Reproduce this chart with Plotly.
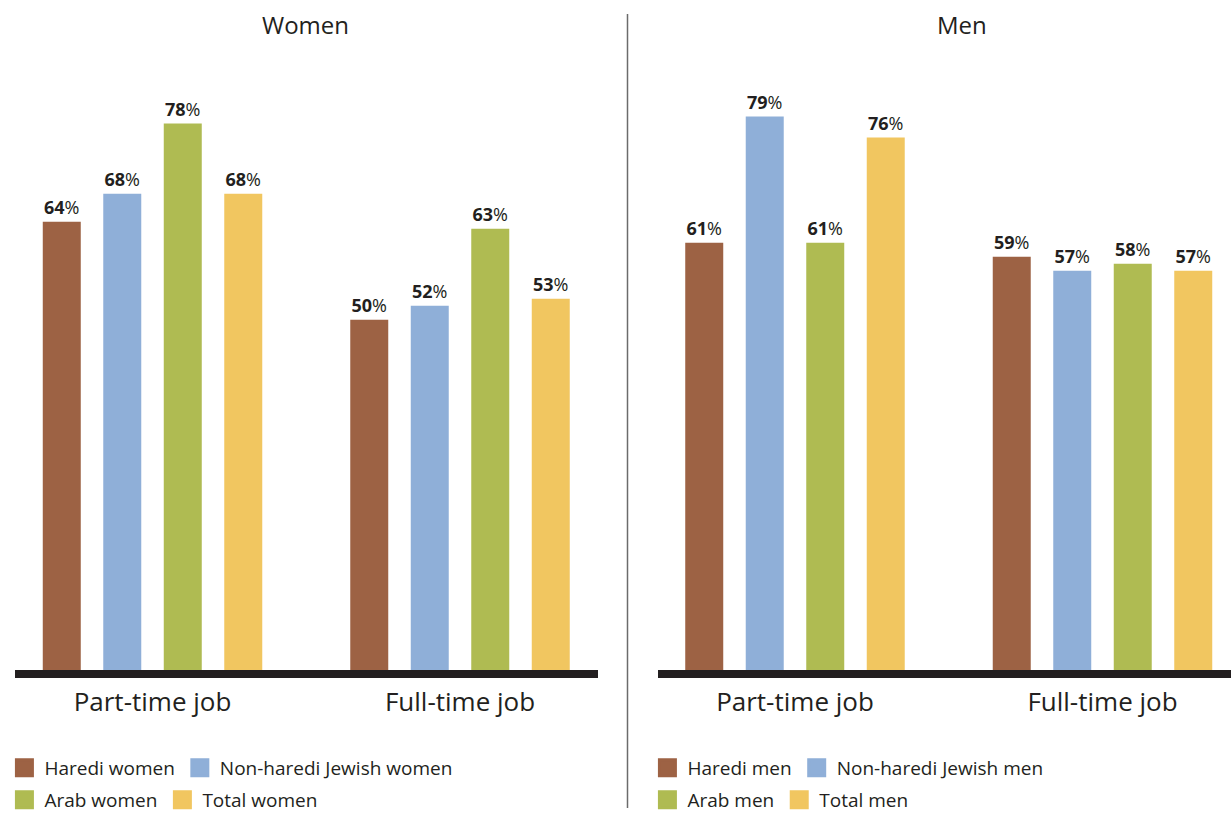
import plotly.graph_objects as go
from plotly.subplots import make_subplots

categories = ["Part-time job", "Full-time job"]

women_groups = ["Haredi women", "Non-haredi Jewish women", "Arab women", "Total women"]
women_values = [
    [64, 50],   # Haredi women
    [68, 52],   # Non-haredi Jewish women
    [78, 63],   # Arab women
    [68, 53],   # Total women
]

men_groups = ["Haredi men", "Non-haredi Jewish men", "Arab men", "Total men"]
men_values = [
    [61, 59],   # Haredi men
    [79, 57],   # Non-haredi Jewish men
    [61, 58],   # Arab men
    [76, 57],   # Total men
]

colors = ["#9d6244", "#8fafd8", "#afbb52", "#f1c660"]
TXT = "#231f20"
FONT = "Open Sans"

W, H = 1231, 814
ML, MR, MT, MB = 15, 0, 40, 144
PW = W - ML - MR
PH = H - MT - MB

fig = make_subplots(rows=1, cols=2)

def add_panel(groups, values, col, legends):
    for i, (g, vals) in enumerate(zip(groups, values)):
        fig.add_trace(
            go.Bar(
                x=categories,
                y=vals,
                name=g,
                marker=dict(color=colors[i], line=dict(width=0)),
                text=[f"<b>{v}</b>%" for v in vals],
                textposition="outside",
                textfont=dict(family=FONT, size=18, color=TXT),
                cliponaxis=False,
                showlegend=False,
                hoverinfo="skip",
            ),
            row=1, col=col,
        )
        # legend swatch (larger square than the default bar symbol)
        fig.add_trace(
            go.Scatter(
                x=[None], y=[None],
                mode="markers",
                name=g,
                marker=dict(symbol="square", size=19, color=colors[i],
                            line=dict(color=colors[i], width=3)),
                legend=legends[i // 2],
                showlegend=True,
            ),
            row=1, col=col,
        )

add_panel(women_groups, women_values, 1, ["legend", "legend2"])
add_panel(men_groups, men_values, 2, ["legend3", "legend4"])

def px_x(x):
    return (x - ML) / PW

def px_y(y):
    return (H - MB - y) / PH

leg_common = dict(
    orientation="h",
    yanchor="middle",
    xanchor="left",
    font=dict(family=FONT, size=19, color=TXT),
    bgcolor="rgba(0,0,0,0)",
    itemwidth=30,
    traceorder="normal",
)

LX = 0.0087
fig.update_layout(
    width=W, height=H,
    margin=dict(l=ML, r=MR, t=MT, b=MB, autoexpand=False),
    paper_bgcolor="white",
    plot_bgcolor="white",
    barmode="group",
    bargap=0.213,
    bargroupgap=0.372,
    font=dict(family=FONT, color=TXT),
    legend=dict(x=px_x(15) - LX, y=px_y(768), **leg_common),
    legend2=dict(x=px_x(15) - LX, y=px_y(800), **leg_common),
    legend3=dict(x=px_x(658) - LX, y=px_y(768), **leg_common),
    legend4=dict(x=px_x(658) - LX, y=px_y(800), **leg_common),
)

axis_x = dict(
    showgrid=False, zeroline=False,
    showline=True, linecolor=TXT, linewidth=8,
    ticks="", tickfont=dict(family=FONT, size=26, color=TXT),
    ticklabelstandoff=2,
    fixedrange=True,
)
fig.update_xaxes(**axis_x)
fig.update_xaxes(domain=[0, px_x(597.7)], range=[-0.4472, 1.4478], row=1, col=1)
fig.update_xaxes(domain=[px_x(658), 1], range=[-0.4455, 1.4179], row=1, col=2)

fig.update_yaxes(
    range=[0, PH / 7.005], showgrid=False, zeroline=False,
    showline=False, showticklabels=False, ticks="", fixedrange=True,
)

# Panel titles
fig.add_annotation(text="Women", xref="paper", yref="paper",
                   x=px_x(305), y=px_y(24), showarrow=False,
                   font=dict(family=FONT, size=24, color=TXT),
                   xanchor="center", yanchor="middle")
fig.add_annotation(text="Men", xref="paper", yref="paper",
                   x=px_x(962), y=px_y(24), showarrow=False,
                   font=dict(family=FONT, size=24, color=TXT),
                   xanchor="center", yanchor="middle")

# Vertical divider
fig.add_shape(type="line", xref="paper", yref="paper",
              x0=px_x(627.5), x1=px_x(627.5), y0=px_y(14), y1=px_y(808),
              line=dict(color="#6b6b6b", width=1.5))

fig.write_html("out.html", config={"displayModeBar": False},
               post_script="document.body.style.margin='0';")
